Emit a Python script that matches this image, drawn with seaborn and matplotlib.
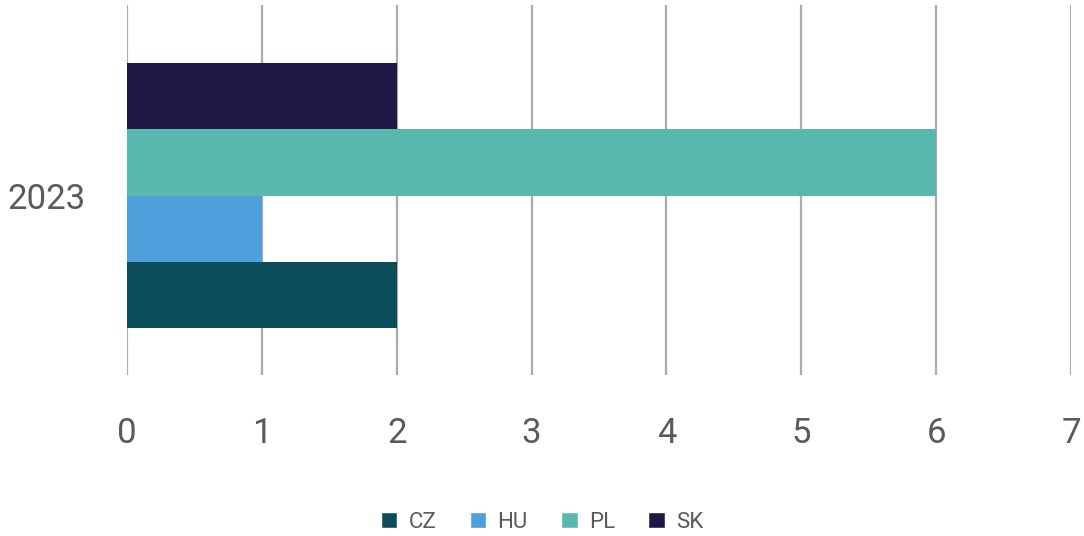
import pandas as pd
import matplotlib
matplotlib.use("Agg")
import matplotlib.pyplot as plt
import seaborn as sns
from matplotlib.patches import Patch

# === DATA ===
years = ["2023"]
countries = ["CZ", "HU", "PL", "SK"]
values = [2, 1, 6, 2]
colors = ["#0b4d5a", "#4f9fdc", "#58b8ae", "#1f1845"]
x_ticks = [0, 1, 2, 3, 4, 5, 6, 7]

df = pd.DataFrame({
    "year": years * len(countries),
    "country": countries,
    "value": values,
})

# === PLOT ===
sns.set_theme(style="white")
plt.rcParams["font.family"] = ["Roboto", "DejaVu Sans"]

fig = plt.figure(figsize=(10.84, 5.36), dpi=100)
ax = fig.add_axes([127 / 1084, 1 - 375 / 536, (1071 - 127) / 1084, 370 / 536])

sns.barplot(
    data=df, x="value", y="year", hue="country", hue_order=countries,
    palette=colors, orient="h", width=0.716, saturation=1, ax=ax,
    legend=False, linewidth=0,
)

ax.set_xlim(0, 7)
ax.set_ylim(-0.485, 0.515)
ax.set_xticks(x_ticks)
ax.set_xticklabels([str(t) for t in x_ticks], fontsize=25, color="#5a5a5a")
ax.set_yticks([0])
ax.set_yticklabels(years, fontsize=25, color="#5a5a5a")
ax.tick_params(axis="x", length=0, pad=30)
ax.tick_params(axis="y", length=0, pad=30)
ax.set_xlabel("")
ax.set_ylabel("")

ax.grid(axis="x", color="#ababab", linewidth=1.6)
ax.set_axisbelow(True)
for s in ax.spines.values():
    s.set_visible(False)

handles = [Patch(facecolor=c, label=n) for n, c in zip(countries, colors)]
leg = fig.legend(
    handles=handles, loc="center", bbox_to_anchor=(0.5, 1 - 522 / 536),
    ncol=4, frameon=False, fontsize=16, handlelength=0.75, handleheight=0.75,
    handletextpad=0.5, columnspacing=1.5,
)
for t in leg.get_texts():
    t.set_color("#5a5a5a")

fig.savefig("out.png", dpi=100)
